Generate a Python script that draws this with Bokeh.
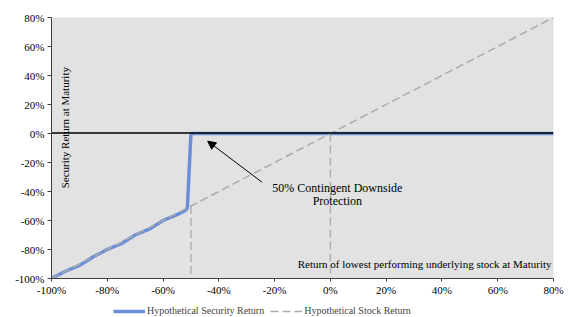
import numpy as np
from bokeh.plotting import figure
from bokeh.layouts import column
from bokeh.models import (Range1d, FixedTicker, PrintfTickFormatter, Label, Arrow,
                          NormalHead, Legend, LegendItem)
from bokeh.embed import file_html
from bokeh.resources import INLINE

# Data (percent)
sec_x = [-100, -95, -90, -85, -80, -75, -70, -65, -60, -55, -52, -51.3, -50, 80]
sec_y = [-100, -95, -91, -85, -80, -76, -70, -66, -60, -56, -53, -51.5, 0, 0]
stock_x = [-100, 80]
stock_y = [-100, 80]
barrier_x = [-50, -50]
barrier_y = [-50, -100]
zero_x = [0, 0]
zero_y = [0, -100]
ticks = [-100, -80, -60, -40, -20, 0, 20, 40, 60, 80]
series_names = ["Hypothetical Security Return", "Hypothetical Stock Return"]
# off-range points so the legend strip can draw its line samples
legend_dummy_x = [-2, -3]
legend_dummy_y = [-2, -3]

FONT = "Liberation Serif"
BLUE = "#6A8ED8"
GRAY = "#ABABAB"

p = figure(frame_width=502, frame_height=261, output_backend="svg", toolbar_location=None,
           x_range=Range1d(-100, 80), y_range=Range1d(-100, 80),
           min_border_left=51, min_border_right=22, min_border_top=17, min_border_bottom=0)
p.background_fill_color = "#E1E2E1"
p.border_fill_color = "white"
p.outline_line_color = None
p.xgrid.grid_line_color = None
p.ygrid.grid_line_color = None

for ax in (p.xaxis[0], p.yaxis[0]):
    ax.ticker = FixedTicker(ticks=ticks)
    ax.formatter = PrintfTickFormatter(format="%d%%")
    ax.minor_tick_line_color = None
    ax.major_tick_in = 0
    ax.major_tick_out = 4
    ax.axis_line_color = "#404040"
    ax.major_tick_line_color = "#404040"
    ax.major_label_text_font = FONT
    ax.major_label_text_font_size = "11px"
    ax.major_label_text_color = "black"
    ax.major_label_standoff = 3
p.xaxis[0].major_tick_out = 3
p.xaxis[0].major_label_standoff = 2

# Vertical dashed guide lines
p.line(barrier_x, barrier_y, line_color="#B0B0B0", line_width=1.5, line_dash="8 4")
p.line(zero_x, zero_y, line_color="#B0B0B0", line_width=1.5, line_dash="8 4")

p.line(sec_x, sec_y, line_color=BLUE, line_width=3.5)
p.line(stock_x, stock_y, line_color=GRAY, line_width=1.5, line_dash="8 4")
p.line([-100, 80], [0.4, 0.4], line_color="black", line_width=1.5)

p.add_layout(Label(x=-95, y=4, text="Security Return at Maturity", angle=np.pi / 2,
                   text_align="center", text_baseline="middle", text_font=FONT,
                   text_font_size="11px", text_color="black"))
p.add_layout(Label(x=79.3, y=-89.7, text="Return of lowest performing underlying stock at Maturity",
                   text_align="right", text_baseline="middle", text_font=FONT,
                   text_font_size="11px", text_color="black"))
p.add_layout(Label(x=2.5, y=-37.9, text="50% Contingent Downside",
                   text_align="center", text_baseline="middle", text_font=FONT,
                   text_font_size="12px", text_color="black"))
p.add_layout(Label(x=2.5, y=-46.7, text="Protection",
                   text_align="center", text_baseline="middle", text_font=FONT,
                   text_font_size="12px", text_color="black"))
p.add_layout(Arrow(x_start=-24.5, y_start=-33.6, x_end=-44.0, y_end=-5.3,
                   line_color="black", line_width=1,
                   end=NormalHead(size=8, fill_color="black", line_color="black")))

# Separate strip for the legend beneath the chart
p2 = figure(width=575, height=19, output_backend="svg", toolbar_location=None,
            x_range=Range1d(0, 1), y_range=Range1d(0, 1), min_border=0,
            x_axis_location=None, y_axis_location=None)
p2.outline_line_color = None
p2.xgrid.grid_line_color = None
p2.ygrid.grid_line_color = None
p2.background_fill_color = "white"
p2.border_fill_color = "white"
l_sec = p2.line(x=legend_dummy_x, y=legend_dummy_y, line_color=BLUE, line_width=3.5)
l_stock = p2.line(x=legend_dummy_x, y=legend_dummy_y, line_color=GRAY, line_width=1.5,
                  line_dash="8 4")

legend = Legend(items=[LegendItem(label=series_names[0], renderers=[l_sec]),
                       LegendItem(label=series_names[1], renderers=[l_stock])],
                orientation="horizontal", location=(62, 1),
                label_text_font=FONT, label_text_font_size="10px",
                glyph_width=32, glyph_height=10, label_standoff=2, spacing=6,
                padding=0, margin=0, border_line_color=None,
                background_fill_alpha=0, label_height=10)
p2.add_layout(legend)

layout = column(p, p2, spacing=0)
open("out.html", "w").write(file_html(layout, INLINE))
